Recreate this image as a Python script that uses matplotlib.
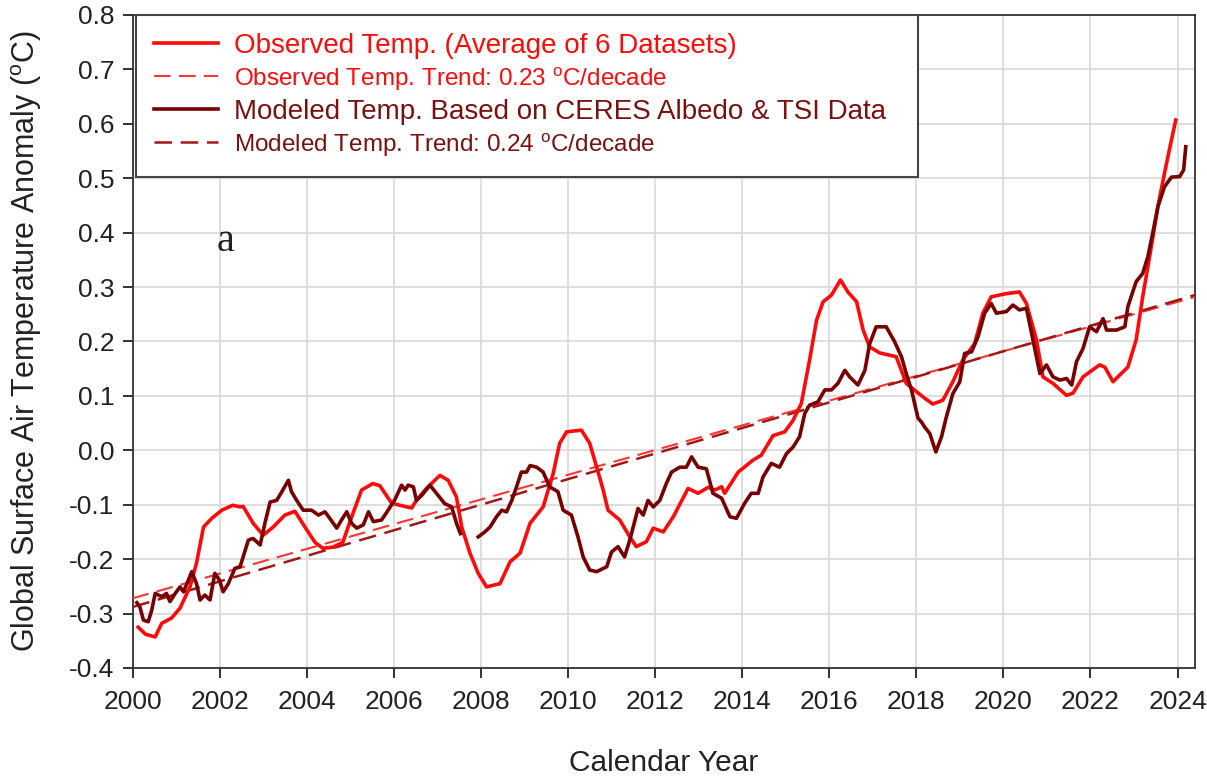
import numpy as np
import matplotlib
matplotlib.use('Agg')
import matplotlib.pyplot as plt
from matplotlib.ticker import FormatStrFormatter, MultipleLocator

plt.rcParams['font.family'] = ['Liberation Sans', 'DejaVu Sans']
plt.rcParams['mathtext.fontset'] = 'custom'
plt.rcParams['mathtext.rm'] = 'Liberation Sans'
plt.rcParams['axes.unicode_minus'] = False

# observed temperature (average of 6 datasets)
obs_year = [2000.13, 2000.3, 2000.52, 2000.67, 2000.9, 2001.09, 2001.32, 2001.47, 2001.63, 2001.82,
            2002.05, 2002.3, 2002.47, 2002.54, 2002.77, 2003.0, 2003.23, 2003.5, 2003.73, 2003.96,
            2004.19, 2004.37, 2004.6, 2004.83, 2005.03, 2005.26, 2005.52, 2005.68, 2005.95, 2006.14,
            2006.41, 2006.52, 2006.75, 2007.06, 2007.25, 2007.44, 2007.56, 2007.75, 2007.94, 2008.13,
            2008.44, 2008.67, 2008.9, 2009.13, 2009.43, 2009.66, 2009.81, 2009.97, 2010.31, 2010.5,
            2010.66, 2010.81, 2010.92, 2011.19, 2011.42, 2011.57, 2011.8, 2011.96, 2012.19, 2012.42,
            2012.76, 2012.99, 2013.22, 2013.37, 2013.53, 2013.6, 2013.91, 2014.25, 2014.44, 2014.71,
            2014.98, 2015.17, 2015.36, 2015.55, 2015.71, 2015.86, 2016.05, 2016.26, 2016.43, 2016.63,
            2016.78, 2016.93, 2017.16, 2017.54, 2017.77, 2018.0, 2018.19, 2018.38, 2018.61, 2018.84,
            2019.07, 2019.34, 2019.53, 2019.72, 2020.07, 2020.37, 2020.53, 2020.76, 2020.91, 2021.14,
            2021.45, 2021.6, 2021.83, 2022.21, 2022.33, 2022.52, 2022.63, 2022.86, 2023.05, 2023.2,
            2023.36, 2023.55, 2023.7, 2023.86, 2023.96]
obs_temp = [-0.325, -0.338, -0.343, -0.318, -0.308, -0.29, -0.251, -0.207, -0.141, -0.125,
            -0.110, -0.101, -0.104, -0.103, -0.134, -0.156, -0.141, -0.119, -0.112, -0.141,
            -0.169, -0.18, -0.178, -0.169, -0.123, -0.073, -0.061, -0.065, -0.097, -0.101,
            -0.106, -0.092, -0.07, -0.046, -0.055, -0.086, -0.141, -0.189, -0.226, -0.251,
            -0.245, -0.205, -0.189, -0.134, -0.104, -0.043, 0.013, 0.034, 0.037, 0.013,
            -0.031, -0.073, -0.11, -0.128, -0.159, -0.177, -0.168, -0.143, -0.15, -0.122,
            -0.07, -0.079, -0.068, -0.073, -0.067, -0.079, -0.04, -0.018, -0.009, 0.027,
            0.034, 0.055, 0.086, 0.166, 0.239, 0.273, 0.285, 0.313, 0.291, 0.273,
            0.221, 0.19, 0.179, 0.172, 0.123, 0.108, 0.096, 0.085, 0.092, 0.126,
            0.166, 0.196, 0.252, 0.282, 0.288, 0.291, 0.27, 0.203, 0.135, 0.123,
            0.101, 0.105, 0.135, 0.157, 0.153, 0.126, 0.135, 0.153, 0.203, 0.282,
            0.356, 0.448, 0.509, 0.570, 0.607]

# modeled temperature from CERES albedo & TSI (gap late 2007)
mod_year = [2000.1, 2000.17, 2000.25, 2000.36, 2000.44, 2000.52, 2000.67, 2000.78, 2000.86, 2000.98,
            2001.09, 2001.17, 2001.28, 2001.36, 2001.47, 2001.55, 2001.66, 2001.78, 2001.89, 2002.0,
            2002.08, 2002.2, 2002.35, 2002.47, 2002.66, 2002.77, 2002.93, 2003.04, 2003.16, 2003.31,
            2003.43, 2003.58, 2003.65, 2003.77, 2003.92, 2004.11, 2004.27, 2004.42, 2004.53, 2004.69,
            2004.8, 2004.92, 2005.03, 2005.15, 2005.3, 2005.42, 2005.53, 2005.72, 2005.87, 2006.03,
            2006.18, 2006.26, 2006.33, 2006.45, 2006.52, 2006.64, 2006.83, 2006.98, 2007.17, 2007.33,
            2007.44, 2007.53, 2007.7, 2007.94, 2008.09, 2008.21, 2008.36, 2008.48, 2008.59, 2008.71,
            2008.82, 2008.93, 2009.05, 2009.13, 2009.28, 2009.43, 2009.58, 2009.77, 2009.89, 2010.08,
            2010.23, 2010.35, 2010.5, 2010.66, 2010.89, 2011.0, 2011.15, 2011.3, 2011.42, 2011.61,
            2011.73, 2011.84, 2011.96, 2012.11, 2012.26, 2012.38, 2012.57, 2012.72, 2012.84, 2012.99,
            2013.18, 2013.33, 2013.53, 2013.72, 2013.87, 2014.06, 2014.21, 2014.37, 2014.48, 2014.67,
            2014.86, 2015.02, 2015.17, 2015.32, 2015.44, 2015.55, 2015.74, 2015.9, 2016.05, 2016.2,
            2016.36, 2016.47, 2016.66, 2016.82, 2016.93, 2017.08, 2017.31, 2017.5, 2017.66, 2017.77,
            2017.89, 2018.04, 2018.12, 2018.19, 2018.31, 2018.45, 2018.58, 2018.69, 2018.84, 2019.0,
            2019.11, 2019.27, 2019.42, 2019.57, 2019.72, 2019.84, 2020.07, 2020.22, 2020.37, 2020.53,
            2020.68, 2020.84, 2020.99, 2021.14, 2021.3, 2021.45, 2021.57, 2021.68, 2021.83, 2021.98,
            2022.14, 2022.29, 2022.37, 2022.6, 2022.79, 2022.86, 2023.05, 2023.2, 2023.32, 2023.43,
            2023.55, 2023.7, 2023.86, 2024.05, 2024.14, 2024.19]
mod_temp = [-0.28, -0.288, -0.312, -0.315, -0.294, -0.263, -0.269, -0.263, -0.278, -0.263,
            -0.251, -0.26, -0.239, -0.223, -0.245, -0.275, -0.266, -0.275, -0.226, -0.239,
            -0.26, -0.245, -0.217, -0.214, -0.165, -0.162, -0.174, -0.134, -0.095, -0.092,
            -0.076, -0.055, -0.076, -0.092, -0.11, -0.11, -0.119, -0.113, -0.125, -0.143,
            -0.128, -0.113, -0.134, -0.143, -0.137, -0.113, -0.131, -0.128, -0.11, -0.09,
            -0.064, -0.073, -0.064, -0.067, -0.092, -0.083, -0.064, -0.079, -0.098, -0.104,
            -0.134, -0.153, np.nan, -0.159, -0.15, -0.141, -0.122, -0.11, -0.113, -0.092,
            -0.067, -0.04, -0.04, -0.028, -0.031, -0.04, -0.067, -0.076, -0.11, -0.119,
            -0.159, -0.196, -0.22, -0.223, -0.214, -0.187, -0.177, -0.196, -0.165, -0.107,
            -0.119, -0.092, -0.104, -0.092, -0.061, -0.04, -0.031, -0.031, -0.012, -0.031,
            -0.034, -0.079, -0.088, -0.122, -0.125, -0.097, -0.079, -0.079, -0.049, -0.024,
            -0.031, -0.006, 0.006, 0.025, 0.068, 0.083, 0.089, 0.111, 0.111, 0.123,
            0.147, 0.135, 0.12, 0.147, 0.196, 0.227, 0.227, 0.2, 0.172, 0.141,
            0.111, 0.059, 0.052, 0.043, 0.031, -0.003, 0.025, 0.061, 0.104, 0.126,
            0.178, 0.181, 0.209, 0.252, 0.27, 0.252, 0.255, 0.267, 0.258, 0.261,
            0.203, 0.141, 0.157, 0.135, 0.129, 0.132, 0.12, 0.163, 0.187, 0.227,
            0.218, 0.242, 0.221, 0.221, 0.227, 0.264, 0.31, 0.325, 0.356, 0.399,
            0.448, 0.484, 0.502, 0.503, 0.515, 0.558]

# linear trends: intercept at 2000, slope per year
obs_trend = (-0.272, 0.0227)
mod_trend = (-0.288, 0.0235)

c_obs = '#ff0a0a'
c_mod = '#780000'
c_mod_txt = '#7a1010'

fig = plt.figure(figsize=(12.07, 7.8), dpi=100)
ax = fig.add_axes([0.1098, 0.1436, 0.8802, 0.8372])

tx = np.array([2000.0, 2024.4])
l1, = ax.plot(obs_year, obs_temp, color=c_obs, lw=2.6, zorder=4)
l2, = ax.plot(tx, obs_trend[0] + obs_trend[1] * (tx - 2000), color='#ff3333', lw=1.5,
              dashes=(8, 4), zorder=3)
l3, = ax.plot(mod_year, mod_temp, color=c_mod, lw=2.6, zorder=5)
l4, = ax.plot(tx, mod_trend[0] + mod_trend[1] * (tx - 2000), color='#a01818', lw=1.8,
              dashes=(7, 3.5), zorder=3)

ax.set_xlim(2000, 2024.4)
ax.set_ylim(-0.4, 0.8)
ax.xaxis.set_major_locator(MultipleLocator(2))
ax.yaxis.set_major_locator(MultipleLocator(0.1))
ax.yaxis.set_major_formatter(FormatStrFormatter('%.1f'))
ax.grid(True, color='#d8d8d8', lw=1.2)
ax.set_axisbelow(True)
ax.tick_params(direction='out', length=7, width=1.3, labelsize=19, colors='#222222')
ax.tick_params(axis='x', pad=9)
ax.tick_params(axis='y', pad=6)
for s in ax.spines.values():
    s.set_color('#333333')
    s.set_linewidth(1.3)

ax.set_xlabel('Calendar Year', fontsize=21.5, color='#222222', labelpad=25)
ax.set_ylabel(r'Global Surface Air Temperature Anomaly ($^{\rm o}$C)', fontsize=22,
              color='#222222', labelpad=18)

ax.text(2002.13, 0.383, 'a', fontsize=29, family='Liberation Serif', color='#222222',
        ha='center', va='center')

labels = ['Observed Temp. (Average of 6 Datasets)',
          r'Observed Temp. Trend: 0.23 $^{\rm o}$C/decade',
          'Modeled Temp. Based on CERES Albedo & TSI Data',
          r'Modeled Temp. Trend: 0.24 $^{\rm o}$C/decade']
leg = ax.legend([l1, l2, l3, l4], labels, loc='upper left', bbox_to_anchor=(0.003, 1.0, 0.736, 0),
                mode='expand', borderaxespad=0, fontsize=20, handlelength=2.3, handletextpad=0.6,
                labelspacing=0.22, borderpad=0.65, fancybox=False, framealpha=1, edgecolor='#444444')
leg.get_frame().set_linewidth(1.5)
for t, c, fs in zip(leg.get_texts(), [c_obs, c_obs, c_mod_txt, c_mod_txt], [20, 17.5, 20, 17.5]):
    t.set_color(c)
    t.set_fontsize(fs)
leg.set_zorder(10)

fig.savefig('out.png', dpi=100)
